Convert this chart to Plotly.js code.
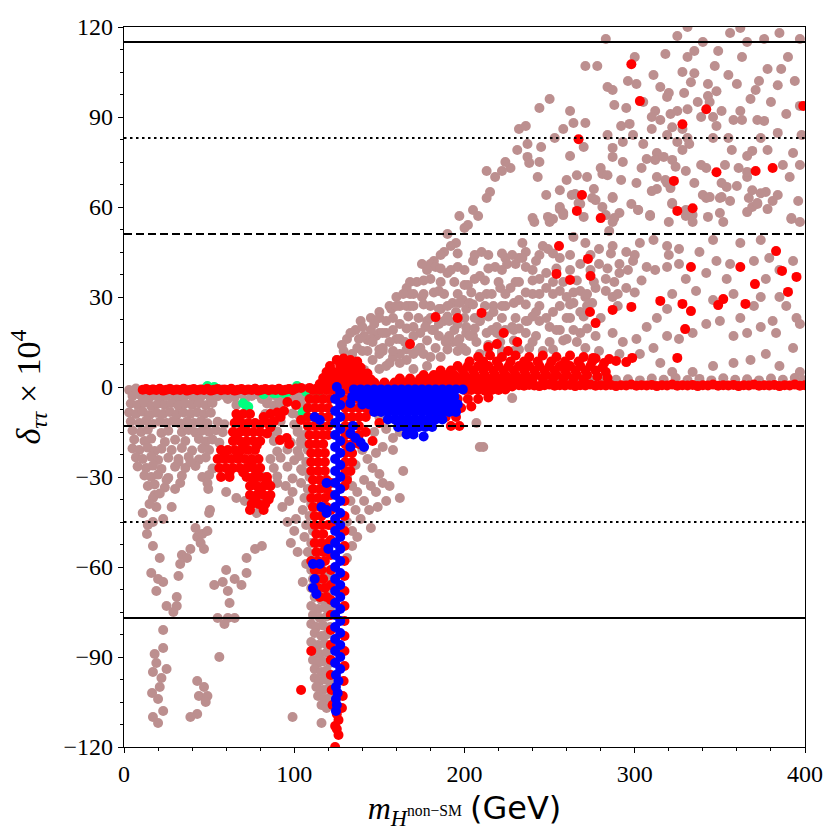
<!DOCTYPE html>
<html>
<head>
<meta charset="utf-8">
<script src="https://cdn.plot.ly/plotly-3.0.1.min.js"></script>
<style>
  html, body { margin: 0; padding: 0; background: #fff; }
  #chart { width: 840px; height: 840px; }
</style>
</head>
<body>
<div id="chart"></div>
<script>
// ---- data: [m_H (GeV), delta_tautau x 1e4] ----

// rosy brown: all points
var roseBand = [[3,-1],[5,-3],[7,-0.5],[9,-2.5],[11,-4],[13,-1.5],[15,-3.5],[17,-0.8],[19,-2.8],[21,-4.2],[23,-1.2],[25,-3],[27,-0.6],[29,-2.4],[31,-4],[33,-1.4],[35,-3.2],[37,-0.9],[39,-2.6],[41,-4.1],[43,-1.1],[45,-3.3],[47,-0.7],[49,-2.5],[51,-3.9],[53,-1.3],[55,-3.1],[57,-0.8],[59,-2.7],[61,-4],[63,-1.5],[65,-3.4],[67,-1],[69,-2.2],[71,-4.3],[73,-1.2],[75,-3],[77,-0.6],[79,-2.6],[81,-4],[83,-1.4],[85,-3.2],[87,-0.9],[89,-2.8],[91,-4.1],[93,-1.1],[95,-3.3],[97,-0.7],[99,-2.5],[101,-3.8],[103,-1.3],[105,-3.1],[107,-0.8],[109,-2.7],[111,-4],[113,-1.5],[115,-3.4],[117,-1],[119,-2.6],
  [226,2.6],[233,2.2],[240,2.8],[247,2.4],[254,3],[261,2.3],[268,2.7],[275,2.2],[282,2.9],[289,2.4],[296,2.6],[303,2.2],[310,2.8],[317,2.4],[324,3],[331,2.3],[338,2.7],[345,2.2],[352,2.9],[359,2.4],[366,2.6],[373,2.2],[380,2.8],[387,2.4],[394,3],[399,2.3]];

var roseLeft = [[4,-5.5],[8,-6],[12,-5.2],[16,-6.3],[20,-5.6],[24,-6],[28,-5.3],[32,-6.2],[36,-5.5],[40,-6],[44,-5.4],[48,-6.1],[52,-5.3],[66,-6],[84,-5.5],[88,-6.2],[92,-5.4],[104,-5.8],
  [3,-8.5],[7,-9],[11,-8.2],[15,-9.3],[19,-8.6],[23,-9],[27,-8.3],[31,-9.2],[35,-8.5],[39,-9],[43,-8.4],[47,-9.1],[51,-8.6],[83,-9],[87,-8.5],[99,-8.8],[103,-9.5],
  [4,-11.5],[9,-12],[13,-11.2],[17,-12.3],[21,-11.6],[25,-12],[29,-11.3],[33,-12.2],[37,-11.5],[41,-12],[45,-11.4],[49,-12.1],[55,-11.6],[59,-12.4],[86,-12],[92,-11.5],[100,-12.5],
  [5,-14.5],[10,-15],[14,-14.2],[22,-15.3],[26,-14.6],[34,-15],[38,-14.3],[42,-15.2],[46,-14.5],[50,-15],[54,-14.4],[58,-15.1],[86,-15.5],[90,-14.8],[102,-15],
  [6,-17.5],[12,-18],[16,-17.2],[24,-18.3],[30,-17.6],[36,-18],[44,-17.3],[48,-18.2],[52,-17.5],[56,-18.6],[88,-18],[98,-18.5],[104,-17.8],
  [5,-20.5],[9,-21],[14,-20.2],[18,-21.3],[22,-20.6],[28,-21],[34,-20.3],[40,-21.2],[46,-20.5],[50,-21],[90,-21.5],[96,-20.8],[102,-21.3],
  [7,-23.5],[11,-24],[16,-23.2],[20,-24.3],[26,-23.6],[32,-24],[38,-23.3],[44,-24.2],[48,-23.5],[86,-24],[92,-23.6],[100,-24.4],
  [8,-26.5],[13,-27],[17,-26.2],[22,-27.3],[30,-26.6],[36,-27],[42,-26.3],[52,-27.2],[88,-27],[96,-26.6],[104,-27.4],
  [12,-29.5],[16,-30],[20,-29.2],[26,-30.3],[34,-29.6],[46,-30],[50,-29.3],[82,-30],[90,-29.8],[99,-30.5],
  [14,-33],[18,-32.5],[24,-33.5],[33,-32],[49,-32],[49.5,-34],[18,-36],[17,-37],[21,-35.5],[30,-34],[60,-35],[66,-37],[71,-38],[80,-37],[90,-32],[93,-40],[99,-35],[78,-42],[50.5,-41],[19,-40],[25,-31],[15,-39],[11,-42],[28,-40]];

var roseSparse = [[17,-45],[14,-46],[23,-44],[13.5,-49],[17,-53],[21,-57],[16,-62],[20,-64],[23,-65],[19,-68],[25,-73],[29,-75],[23,-81],[23,-87],[18,-89],[19,-92],[25,-94],[17,-95],[22,-97],[21,-100],[16.5,-102],[20,-104],[23,-108],[17,-110],[20,-112],[31,-70],[31,-73],
  [34,-56],[33,-59],[32,-63],[37,-57],[39,-54],[43,-50],[46,-49],[42,-47],[47,-54],[45,-52],[49,-48],
  [53,-66],[58,-65],[60,-61],[65,-64],[69,-66],[72,-62],[72,-57],[77,-54],[81,-53],[61,-68],[62,-72],[61,-77],[65,-77],[59,-79],[55,-77],[56,-90],
  [43,-98],[47,-100],[44,-103],[49,-103],[48,-105],[43,-109],[39,-110],[99,-110],[105,-65],[50,-42],[32,-25],[39,-25]];

var roseColumn = [[103,-6],[107,-7],[104,-10],[108,-12],[102,-14],[106,-16],[104,-19],[108,-21],[103,-23],[107,-25],[105,-28],[109,-30],[104,-32],[108,-34],[106,-37],[110,-39],[105,-41],[109,-43],[107,-46],[111,-48],[106,-50],[110,-52],[108,-55],[112,-57],[107,-59],
  [96,-45],[100,-48],[98,-52],[102,-55],[101,-44],[97,-38],[95,-33],
  [110,-61],[114,-62],[118,-61.5],[121,-62],[111,-64],[115,-65],[119,-64.5],[110,-67],[113,-68],[117,-67.5],[121,-68],[112,-70],[116,-71],[119,-70.5],[110,-73],[114,-74],[118,-73.5],[121,-74],[111,-76],[115,-77],[119,-76.5],[110,-79],[113,-80],[117,-79.5],[121,-80],[112,-82],[116,-83],[119,-82.5],[110,-85],[114,-86],[118,-85.5],[121,-86],[111,-88],[115,-89],[119,-88.5],[111,-91],[114,-92],[117,-91.5],[121,-92],[112,-94],[116,-95],[119,-94.5],[112,-97],[115,-98],[118,-97.5],[121,-98],[113,-100],[117,-101],[120,-100.5],[114,-103],[118,-104],[121,-103.5],[116,-106],[119,-107],[116,-112],
  [131,-30],[134,-33],[137,-35],[133,-38],[136,-41],[131,-45],[134,-48],[134,-53],[137,-50],[139,-44],[141,-31],[145,-33],[145,-47],[148,-35],[152,-32],[154,-38],[146,-27],[150,-29],[156,-33],[162,-37],[158,-21],[164,-28],[152,-20],[148,-22],[143,-24],[147,-15],[150,-10],[154,-14],[158,-17],[162,-15],[141,-38],[144,-41],[149,-40],[136,-26],[140,-21],[131,-57],[207,-12],[209,-20],[211,-20],[228,-3.7]];

var roseFanLow = [[121,6],[125,9],[129,12],[133,8],[137,13],[141,17],[143,15.7],[148,17],[154,18],[152,12],[146,9],[141,5.7],[136,19],[131,16],[139,22],[145,23],[150,25],[156,27],[162,27],[168,27],[186,26],[193,28],[201,26],[209,22],[217,27],[229,28],[237,22],[242,25],[229,19],[219,18],[201,18],[190,16],[182,19],[174,13],[166,9],[156,8],[150,11],[145,16],[150,18],[160,16],[178,22],[170,20],[162,21],[229,12],[238,13],[209,11],[201,12],[193,15],[186,10],[178,7],[170,6],[150,6],[137,7],[131,5],[143,12],[160,30],[166,33],[172,35],[175,30],[180,36],[185,32],[190,38],[196,40],[200,34],[205,42],[210,45],[188,22],[196,21],[205,17],[214,14],[222,11],
  [215,65],[213,63],[205,59],[208,57],[200,53],[202,54],[195,48],[192,47],[188,45],[182,42],[180,41],[183,40],[175,41],[170,31],[168,31],[157,26],[160,27],[166,27],[185,26],[199,29],[197,28],[206,36],[209,37],[202,34],[218,40],[224,43],[225,41],[230,41],[232,43],[234,48],[236,45],[241,55],[246,47],[249,46],[250,55],[252,56],[256,60],[258,58],[263,64],[268,61],[275,63],[281,60],[287,63],[291,58],[287,55],[285,52],[302,59],[309,57],[313,66],[319,68],[320,55],[322,61],[330,57],[334,55],[342,63],[350,63],[356,62],[352,55],[367,63],[369,60],[372,61],[377,65],[381,62],[392,56],[397,55],
  [234,43],[242,42],[248,38],[236,40],[244,36],[230,35],[227,33],[221,33],[213,31],[209,30],[203,28],[195,25],[191,22],[185,21],[177,20],[174,18],[170,17],[162,16],[156,15],[152,13],[152,18],[162,11],[174,13],[185,17],[191,17],[201,20],[209,22],[217,25],[224,27],[232,29],[240,31],[248,33],[256,32],[260,30],[264,28],[268,32],[271,30],[277,33],[283,36],[291,38],[299,42],[295,33],[287,30],[283,32],[275,28],[268,25],[260,23],[252,25],[244,22],[236,22],[228,20],[219,20],[213,18],[203,17],[197,16],[189,15],[183,13],[176,11],[170,11],[162,8],[154,7],[158,10],[180,10],[199,13],[207,15],[236,18],[242,17],[250,20],[256,19],[260,16],[268,18],[277,17],[287,18],[293,15],[301,16],[307,20],[313,23],[319,26],[322,31],[330,36],[336,32],[342,38],[346,29],[354,36],[358,31],[362,23],[370,27],[374,30],[377,36],[385,30],[389,27],[395,23],[397,21],[381,22],[374,20],[366,18],[358,17],[350,22],[342,21],[334,18],[326,16],[319,17],[311,13],[303,11],[291,11],[279,12],[271,13],[315,8],[322,5],[334,5],[346,7],[358,8],[368,9],[377,11],[385,7],[397,5],[393,13],[383,18],
  [356,41],[348,42],[338,45],[326,46],[319,47],[311,49],[303,48],[295,45],[287,47],[279,46],[271,48],[264,50],[256,43],[268,41],[279,41],[291,41],[307,40],[319,40],[326,41],[370,42],[379,43],[385,39],[393,42],[346,49],[362,48],[374,49]];

var roseFanDense = [[140,12],[150,12.5],[158,12],[166,12.5],[172,12],[190,12.5],[196,12],[214,12.5],[222,12],[232,12.5],[246,12],[252,12.5],
  [146,15],[165,15],[178,15.5],[196,15],[221,15],[229,15.5],[240,15],[250,15],[258,15.5],[266,15],
  [145,19],[158,19],[166,19.5],[181,19],[194,19],[206,19.5],[216,19],[224,19],[232,19.5],[254,19],[264,19],[272,19.5],
  [150,23],[158,23],[167,23.5],[173,23],[180,23],[190,23.5],[200,23],[206,23],[214,23.5],[222,23],[230,23],[240,23.5],[248,23],[262,23],[270,23.5],[280,23],
  [170,27],[176,27.5],[180,27],[190,27],[205,27.5],[212,27],[222,27],[236,27.5],[244,27],[256,27],[262,27.5],[272,27],[290,27],
  [164,31],[176,31],[182,31.5],[188,31],[196,31],[204,31.5],[216,31],[224,31],[236,31.5],[244,31],[252,31],[264,31.5],[272,31],[290,31],[300,31.5],
  [168,35],[176,35.5],[186,35],[194,35],[212,35.5],[220,35],[232,35],[240,35.5],[252,35],[258,35],[266,35.5],[276,35],[288,35],[304,35.5],
  [178,39],[186,39.5],[192,39],[200,39],[214,39.5],[222,39],[240,39],[254,39.5],[262,39],[274,39],[284,39.5],[296,39],[312,39],
  [186,44],[196,44.5],[206,44],[214,44],[222,44.5],[228,44],[244,44],[252,44.5],[262,44],[274,44],[286,44.5],[300,44],[320,44],
  [128,14],[133,18],[138,16],[134,11],[140,20],[147,21],[154,22]];

var roseFanHigh = [[325,117],[331,120],[356,118],[362,119.7],[385,118],[397,116],[366,115],[376,116],[318,111],[331,110],[335,112],[349,112],[363,110],[390,110],[278,107],[328,105],[335,104.6],[311,104],[378,106],[386,106],[296,102],[301,101],[333,101.6],[343,101],[373,102],[284,100],[287,99],[320,98],[329,98],[343,97],[348,98.6],[360,101],[371,99],[384,100.6],[319,96.7],[288,94],[295,93],[312,92],[321,91],[325,92],[331,92.6],[337,95],[344,95],[351,92],[362,92],[389,91],[397,93.7],[262,92],[264,88],[271,88],[310,90],[315,89],[339,90],[346,90],[358,89],[363,89],[372,89],[376,88.7],[348,87],[292,87],[297,87.7],[310,86],[322,86.6],[328,86],[284,84],[299,84],[319,84],[331,83],[346,83],[355,83],[384,84.7],[253,83],[293,81.7],[305,81],[325,81.7],[332,81],[231,79],[237,81],[245,80],[287,79.7],[328,79],[313,78],[378,79],[369,78.7],[287,76.7],[237,76.7],[238,74.7],[227,73],[222,72],[307,76],[312,75.7],[317,76.7],[322,75.7],[324,73.4],[339,74],[342,73],[353,74],[361,73],[366,77],[393,78],[397,74],[387,74],[293,75],[280,73],[281,71],[284,70.6],[266,70.6],[272,70],[243,70],[260,69],[313,70],[318,69],[301,68],[351,68],[354,66.7],[366,70],[366,71.7],[391,70],[369,65.6],[374,64.6],[256,65.6],[265,64.3],[277,62.3],[287,63.3],[310,65.3],[321,66.3],[340,64],[344,63.3],[351,63.3],[372,61.3],[378,59.3],[256,59.3],[267,61.3],[258,57.3],[270,56.7],[283,57.3],[288,56.3],[302,59],[309,57.3],[322,61.3],[330,59],[334,57.3],[343,56.7],[350,58],[366,58.3],[392,56.3],[240,56.3],[249,56.7],
  [213,72],[218,70],[224,75],[232,86],[236,87],[244,93],[250,96],[271,107],[283,116],[190,51],[197,57],
  [340,115],[347,107],[355,104],[368,96],[380,95],[394,102],[305,95],[300,110],[315,100],[357,79],[374,83],[398,84],[262,77],[270,80],[276,66],[292,69],[298,61],[335,68],[360,67],[384,64],[396,62],[248,64],[244,75],[258,86],[304,73],[330,72]];

// red
var redLine = [[11,-0.9],[13,-0.7],[15,-1.1],[17,-0.8],[19,-1],[21,-0.6],[23,-1.2],[25,-0.9],[27,-0.7],[29,-1.1],[31,-0.8],[33,-1],[35,-0.6],[37,-1.2],[39,-0.9],[41,-0.7],[43,-1.1],[45,-0.8],[47,-1],[49,-0.6],[51,-1.2],[53,-0.9],[55,-0.7],[57,-1.1],[59,-0.8],[61,-1],[63,-0.6],[65,-1.2],[67,-0.9],[69,-0.7],[71,-1.1],[73,-0.8],[75,-1],[77,-0.6],[79,-1.2],[81,-0.9],[83,-0.7],[85,-1.1],[87,-0.8],[89,-1],[91,-0.6],[93,-1.2],[95,-0.9],[97,-0.7],[99,-1.1],[101,-0.5],[104,-0.3],[109,-0.3],[113,-0.6],[117,-0.2],
  [232,0.6],[235,0.4],[238,0.7],[241,0.5],[244,0.3],[247,0.6],[250,0.8],[253,0.4],[256,0.6],[259,0.5],[262,0.7],[265,0.3],[268,0.6],[271,0.5],[274,0.8],[277,0.4],[280,0.6],[283,0.5],[286,0.7],[289,0.3],[292,0.6],[295,0.5],[298,0.8],[301,0.4],[304,0.6],[307,0.5],[310,0.7],[313,0.3],[316,0.6],[319,0.5],[322,0.8],[325,0.4],[328,0.6],[331,0.5],[334,0.7],[337,0.3],[340,0.6],[343,0.5],[346,0.8],[349,0.4],[352,0.6],[355,0.5],[358,0.7],[361,0.3],[364,0.6],[367,0.5],[370,0.8],[373,0.4],[376,0.6],[379,0.5],[382,0.7],[385,0.3],[388,0.6],[391,0.5],[394,0.8],[397,0.4],[400,0.6]];

var redBlob = [[66,-9],[70,-9],[74,-9],[82,-10],[86,-9],[90,-8.5],[94,-8],
  [65,-12],[69,-12],[73,-12],[77,-12],[80,-12.5],[84,-12],[88,-11.5],
  [64,-15],[68,-15],[72,-15],[76,-15],[80,-15],[84,-15.5],
  [64,-18],[68,-18],[72,-18],[76,-18],[80,-18],[91.6,-17.7],[95.6,-17],[97,-19],
  [57,-21],[61,-21],[65,-21],[69,-21],[73,-21],[77,-21],
  [55,-24],[59,-24],[63,-24],[67,-24],[71,-24],[75,-24],[79,-24],
  [56,-27],[60,-27],[64,-27],[68,-27],[72,-27],[76,-27],[80,-27],
  [57,-30],[62,-30],[72,-30],[76,-30],[80,-30],[84,-30],
  [74,-33],[78,-33],[82,-33],[86,-33],[74,-36],[78,-36],[82,-36],[86,-36],[75,-39],[79,-39],[83,-39],[74,-41],[82,-41],
  [67,-10.5],[71,-13.5],[66,-16.5],[70,-19.5],[78,-19.5],[59,-22.5],[67,-22.5],[75,-25.5],[62,-28.5],[70,-28.5],[78,-28.5],[76,-31.5],[84,-31.5],[80,-34.5],[77,-37.5],[85,-37.5],[86,-13.5],[92,-10],
  [96,-5],[101,-6],[104,-11]];

var redColumn = [[125,9],[129,9.5],[133,9],[137,8.5],[121,7],[127,7],[131,7],[135,7],[139,6.5],[119,5],[123,5],[127,5],[131,5],[135,5],[139,5],[143,4.5],[117,3],[121,3],[125,3],[129,3],[133,3],[137,3],[141,3],[145,2.5],[115,1],[119,1],[123,1],[127,1],[131,1],[135,1],[139,1],[143,1],[147,0.5],[111,-1],[115,-1],[119,-1],[123,-1],[131,-1],[135,-1],
  [109,-4],[113,-4],[117,-4],[121,-4],[129,-4],[133,-4],[137,-4],
  [108,-7],[112,-7],[116,-7],[120,-7],[130,-7],[134,-7],[138,-7],[142,-7],
  [108,-10],[112,-10],[116,-10],[120,-10],[130,-10],[134,-10],[138,-10],[142,-10],
  [108,-13],[112,-13],[116,-13],[120,-13],[130,-13],[134,-13],[138,-13],
  [109,-16],[113,-16],[117,-16],[120,-16],[130,-16],[134,-16],[138,-16],
  [109,-19],[113,-19],[117,-19],[130,-19],[134,-19],[138,-19],
  [110,-22],[114,-22],[118,-22],[130,-22],[134,-22],
  [110,-25],[114,-25],[118,-25],[130,-25],[134,-25],
  [110,-28],[114,-28],[118,-28],[130,-28],[133,-28],
  [111,-31],[115,-31],[119,-31],[131,-31],[111,-34],[115,-34],[119,-34],[110,-37],[114,-37],[118,-37],[111,-40],[115,-40],[119,-40],[112,-43],[116,-43],[112,-46],[116,-46],[120,-46],[113,-49],[117,-49],[112,-52],[116,-52],[120,-52],[113,-55],[117,-55],[110,-58],[114,-58],[118,-58],[112,-61],[116,-61],[113,-64],[117,-64],[114,-67],[118,-67],[115,-70],[119,-70],
  [121.5,-32],[129.5,-33],[121.5,-36],[129.5,-38],[121.5,-41],[129.5,-43],[121.5,-46],[129.5,-48],[121.5,-51],[129.5,-53],[121.5,-56],[129.5,-58],[121.5,-61],[129.5,-63],[121.5,-66],[129.5,-68],[121.5,-71],[129.5,-73],[121.5,-76],[129.5,-78],[121.5,-81],[129.5,-83],[121.5,-86],[129.5,-88],[121.5,-91],[129.5,-93],[121.5,-96],[129,-98],[122,-101],[128.5,-103],[122.5,-106],[128,-107],[125,-109],[126,-111],[124,-113],[125,-114],[126,-116],[124,-120],
  [110,-88],[104,-101]];

var redBand = [[208,10],[215,10.5],[222,10],[230,10.5],[238,10],[246,10.5],[254,10],[262,10.5],[270,10],[277,9.5],
  [203,8.5],[211,8.5],[219,8.5],[227,8.5],[235,8.5],[243,8.5],[251,8.5],[259,8.5],[267,8.5],[275,8.5],[282,8],
  [196,7],[202,7],[208,7],[214,7],[220,7],[226,7],[232,7],[238,7],[244,7],[250,7],[256,7],[262,7],[268,7],[274,7],[281,6.5],
  [186,5.5],[192,5.5],[199,5.5],[205,5.5],[211,5.5],[217,5.5],[223,5.5],[229,5.5],[235,5.5],[241,5.5],[247,5.5],[253,5.5],[259,5.5],[265,5.5],[271,5.5],[277,5.5],[283,5],
  [176,4],[182,4],[188,4],[194,4],[200,4],[206,4],[212,4],[218,4],[224,4],[230,4],[236,4],[242,4],[248,4],[254,4],[260,4],[266,4],[272,4],[278,3.5],[284,3],
  [162,2.8],[168,2.8],[174,2.8],[180,2.8],[186,2.8],[192,2.8],[198,2.8],[204,2.8],[210,2.8],[216,2.8],[222,2.8],[228,2.8],[234,2.8],[240,2.8],[246,2.8],[252,2.8],[258,2.8],[264,2.8],[270,2.5],
  [147,1.5],[153,1.5],[159,1.5],[165,1.5],[171,1.5],[177,1.5],[183,1.5],[189,1.5],[195,1.5],[201,1.5],[207,1.5],[213,1.5],[219,1.5],[225,1.5],[231,1.5],[237,1.5],
  [150,0.2],[156,0.2],[162,0.2],[168,0.2],[174,0.2],[180,0.2],[186,0.2],[192,0.2],[198,0.2],[204,0.2],[210,0.2],[216,0.2],[222,0.2],[228,0.2],
  [200,-1],[204,-1],[208,-1],[212,-1.2],[216,-1],[220,-1],[224,-0.8],
  [190,-4],[196,-4],[202,-4],[208,-4],[214,-3.5],[186,-7],[192,-7],[198,-7],[204,-6.5],[183,-10],[189,-10],[195,-10],[192,-13],[197,-13],
  [148,-3],[152,-6],[156,-2],[145,-8],[150,-12],[142,-15],[146,-18],[160,-4],[164,-7],[170,-5]];

var redScatter = [[298,107.6],[303,95.3],[342,92.6],[328,87.6],[267,82.6],[348,71.6],[371,72],[381,73],[323,68.7],[269,64],[266,58.7],[280,56.3],[325,58.7],[334,59.6],[399,93.7],
  [255.5,47],[272.5,42.7],[254,37.7],[262,35.7],[274,37],[333,40],[383,45.3],[386.5,38.7],[395,36.7],[362,40],[370.6,34.3],[390,31.7],[315,28.7],[328,27.7],[333,25.3],[352,29.3],[349,27.3],[365,27.7],[329.6,19.3],[273.7,25],[277,21.3],[287,25.7],[298,26.7],[183,23.3],[196,23],[210,24.7],[223,18],[231,15],[219,14.3],[214,13.3],[225.6,12],[168,14.3],[285,9.3],[289,8.7],[295,8.3],[298.5,9.7],[325,9.7],[275.6,9.7]];

// green
var greenPts = [[49,0.3],[53,0],[70,-5.4],[72,-6.5],[73,-6.6],[82,-2.4],[88,-2.1],[90,-2],[94,-2.1],[96,-1.6],[101.6,0.3],[107,-1],[107,-1.6],[105,-8.5],[106,-8.3],[114,-1.5]];

// blue
var blueColumn = [[125,0],[127,-2],[124,-4],[127,-6],[124,-8],[127,-10],[124,-12],[127,-14],[124,-16],[127,-18],[124,-20],[127,-22],[124,-24],[127,-26],[124,-28],[127,-30],[124,-32],[127,-34],[124,-36],[127,-38],[124,-40],[127,-42],[124,-44],[127,-46],[124,-48],[127,-50],[124,-52],[127,-54],[124,-56],[127,-58],[124,-60],[127,-62],[124,-64],[127,-66],[124,-68],[127,-70],[124,-72],[127,-74],[124,-76],[127,-78],[124,-80],[127,-82],[124,-84],[127,-86],[124,-88],[127,-90],[124,-92],[127,-94],[124.5,-96],[126,-98],[124.5,-100],[125.5,-102],[124.5,-104],[125,-106],[124.5,-108],
  [111,-59],[115,-59],[112,-64],[111,-67],[113,-69],[116,-40],[119,-41],[120,-54],[119,-32],[119,-42],[112,-10],[115,-11],[133,-5.4],[134.5,-13],[133,-20],[133,-15.5],[136,-17],[139,-18.5],[141,-20]];

var blueWedge = [[135,-0.8],[139,-0.8],[143,-0.8],[147,-0.8],[151,-0.8],[155,-0.8],[159,-0.8],[163,-0.8],[167,-0.8],[171,-0.8],[175,-0.8],[179,-0.8],[183,-0.8],[187,-0.8],[191,-0.8],[195,-0.8],[199,-0.8],
  [134,-3.3],[138,-3.3],[142,-3.3],[146,-3.3],[150,-3.3],[154,-3.3],[158,-3.3],[162,-3.3],[166,-3.3],[170,-3.3],[174,-3.3],[178,-3.3],[182,-3.3],[186,-3.3],[190,-3.3],[194,-3.3],
  [140,-5.8],[144,-5.8],[148,-5.8],[152,-5.8],[156,-5.8],[160,-5.8],[164,-5.8],[168,-5.8],[172,-5.8],[176,-5.8],[180,-5.8],[184,-5.8],[188,-5.8],[192,-5.8],[196,-5.8],
  [147,-8.3],[151,-8.3],[155,-8.3],[159,-8.3],[163,-8.3],[167,-8.3],[171,-8.3],[175,-8.3],[179,-8.3],[183,-8.3],[187,-8.3],[191,-8.3],[195,-8.3],
  [155,-10.8],[159,-10.8],[163,-10.8],[167,-10.8],[171,-10.8],[175,-10.8],[179,-10.8],[183,-10.8],[187,-10.8],
  [161,-13.3],[165,-13.3],[169,-13.3],[173,-13.3],[177,-13.3],[181,-13.3],[166,-15.8],[170,-15.8],[176,-16.5]];

// reference lines (values of delta x 1e4)
var solidVals = [115, -77];
var dashVals = [51, -13];
var dotVals = [83, -45];

// ---- drawing ----
function xs(pts) { return pts.map(function(p) { return p[0]; }); }
function ys(pts) { return pts.map(function(p) { return p[1]; }); }

var rose = [].concat(roseBand, roseLeft, roseSparse, roseColumn, roseFanLow, roseFanDense, roseFanHigh);
var red = [].concat(redLine, redBlob, redColumn, redBand, redScatter);
var blue = [].concat(blueColumn, blueWedge);

function dots(pts, color) {
  return {
    type: 'scatter', mode: 'markers', x: xs(pts), y: ys(pts),
    marker: {color: color, size: 10, line: {width: 0}},
    hoverinfo: 'skip', showlegend: false
  };
}

var data = [
  dots(rose, '#BC8F8F'),
  dots(greenPts, '#00FF7F'),
  dots(red, '#FF0000'),
  dots(blue, '#0000FF')
];

var shapes = [];
function hline(v, dash) {
  shapes.push({type: 'line', xref: 'paper', x0: 0, x1: 1, yref: 'y', y0: v, y1: v,
    line: {color: 'black', width: 2, dash: dash}});
}
solidVals.forEach(function(v) { hline(v, 'solid'); });
dashVals.forEach(function(v) { hline(v, '8px,4px'); });
dotVals.forEach(function(v) { hline(v, '2.5px,3.5px'); });

var serif = 'Liberation Serif, DejaVu Serif, serif';
var tickFont = {family: serif, size: 24, color: 'black'};

var layout = {
  width: 840, height: 840,
  margin: {l: 124, r: 35, t: 27, b: 93},
  paper_bgcolor: 'white', plot_bgcolor: 'white',
  showlegend: false,
  xaxis: {
    range: [0, 400], tickvals: [0, 100, 200, 300, 400],
    ticks: 'outside', ticklen: 5, tickwidth: 1, tickcolor: 'black',
    minor: {dtick: 20, ticks: 'outside', ticklen: 3, tickwidth: 1, tickcolor: 'black', showgrid: false},
    showgrid: false, zeroline: false,
    showline: true, linecolor: 'black', linewidth: 1.2, mirror: true,
    tickfont: tickFont,
    title: {
      text: '<i>m</i><sub><i>H</i><sup>non−SM</sup></sub> <span style="font-family:DejaVu Sans">(GeV)</span>',
      font: {family: serif, size: 32, color: 'black'},
      standoff: 10
    }
  },
  yaxis: {
    range: [-120, 120], tickvals: [-120, -90, -60, -30, 0, 30, 60, 90, 120],
    ticks: 'outside', ticklen: 5, tickwidth: 1, tickcolor: 'black',
    minor: {dtick: 7.5, ticks: 'outside', ticklen: 3, tickwidth: 1, tickcolor: 'black', showgrid: false},
    showgrid: false, zeroline: false,
    showline: true, linecolor: 'black', linewidth: 1.2, mirror: true,
    tickfont: tickFont,
    title: {
      text: '<i>δ</i><sub><i>ττ</i></sub> × 10<sup>4</sup>',
      font: {family: serif, size: 34, color: 'black'},
      standoff: 12
    }
  },
  shapes: shapes
};

Plotly.newPlot('chart', data, layout, {staticPlot: true, displayModeBar: false});
</script>
</body>
</html>
